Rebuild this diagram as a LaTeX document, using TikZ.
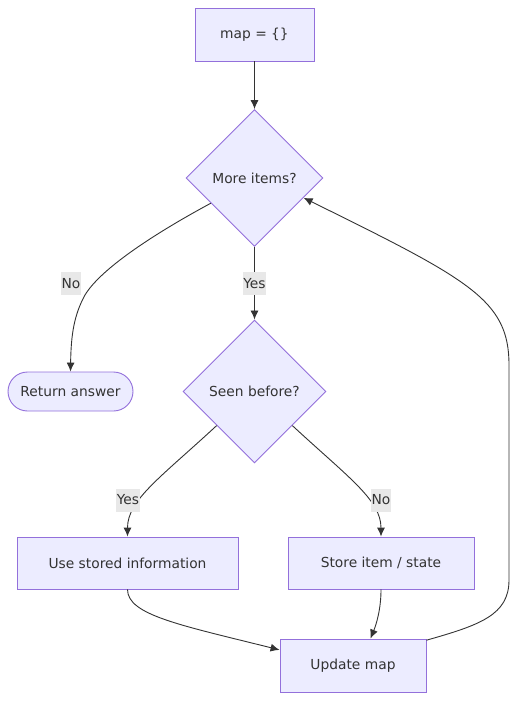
\documentclass[tikz,border=0pt]{standalone}
\usepackage{fontspec}
\setmainfont{DejaVu Sans}
\usetikzlibrary{shapes,arrows.meta}
\definecolor{mmfill}{HTML}{ECECFF}
\definecolor{mmborder}{HTML}{9370DB}
\definecolor{mmtext}{HTML}{333333}
\definecolor{mmlabel}{HTML}{E8E8E8}
\tikzstyle{line} = [draw=mmtext, line width=0.9pt, -{Latex[length=9pt,width=8pt]}]
\tikzstyle{block} = [rectangle, draw=mmborder, fill=mmfill, text=mmtext, line width=0.9pt, minimum height=53pt, font=\fontsize{13.8}{16}\selectfont]
\tikzstyle{decision} = [diamond, aspect=1, draw=mmborder, fill=mmfill, text=mmtext, line width=0.9pt, inner sep=0pt, font=\fontsize{13.8}{16}\selectfont]
\tikzstyle{term} = [rectangle, rounded corners=19.5pt, draw=mmborder, fill=mmfill, text=mmtext, line width=0.9pt, minimum height=39pt, minimum width=125pt, font=\fontsize{13.8}{16}\selectfont]
\tikzstyle{edgelabel} = [fill=mmlabel, text=mmtext, inner sep=0.5pt, minimum height=23pt, font=\fontsize{13.8}{16}\selectfont]

\begin{document}
\begin{tikzpicture}[x=1pt, y=-1pt]
	\useasboundingbox (0,0) rectangle (525,711);
	\node [block, minimum width=119pt] (init) at (254.5,34.5) {map = \{\}};
	\node [decision, minimum width=137pt, minimum height=137pt] (more) at (254.5,178) {More items?};
	\node [term] (ret) at (70.5,391.5) {Return answer};
	\node [decision, minimum width=143pt, minimum height=143pt] (seen) at (254.5,391.5) {Seen before?};
	\node [block, minimum width=221pt, minimum height=52pt] (use) at (127.5,563) {Use stored information};
	\node [block, minimum width=186pt, minimum height=52pt] (store) at (381,563) {Store item / state};
	\node [block, minimum width=146pt] (update) at (353,665.5) {Update map};
	\path [line] (init) -- (more);
	\path [line] (more.210) .. controls (150,236) and (100,270) .. (85,295) .. controls (74,315) and (71,335) .. (ret.north);
	\path [line] (more) -- (seen);
	\path [line] (seen.222) .. controls (160,478) and (127.5,500) .. (use.north);
	\path [line] (seen.318) .. controls (349,478) and (381,500) .. (store.north);
	\path [line] (use.south) .. controls (127.5,615) and (180,625) .. (update.168);
	\path [line] (store.south) .. controls (381,610) and (376,625) .. (update.57);
	\path [line] (update.19) .. controls (480,625) and (509,615) .. (509,580) -- (509,365) .. controls (509,300) and (470,280) .. (more.338);
	\node [edgelabel] (lno) at (71,283.5) {No};
	\node [edgelabel] (lyes) at (254.5,283.5) {Yes};
	\node [edgelabel] (lseenyes) at (128,500) {Yes};
	\node [edgelabel] (lseenno) at (381,500) {No};
\end{tikzpicture}
\end{document}
